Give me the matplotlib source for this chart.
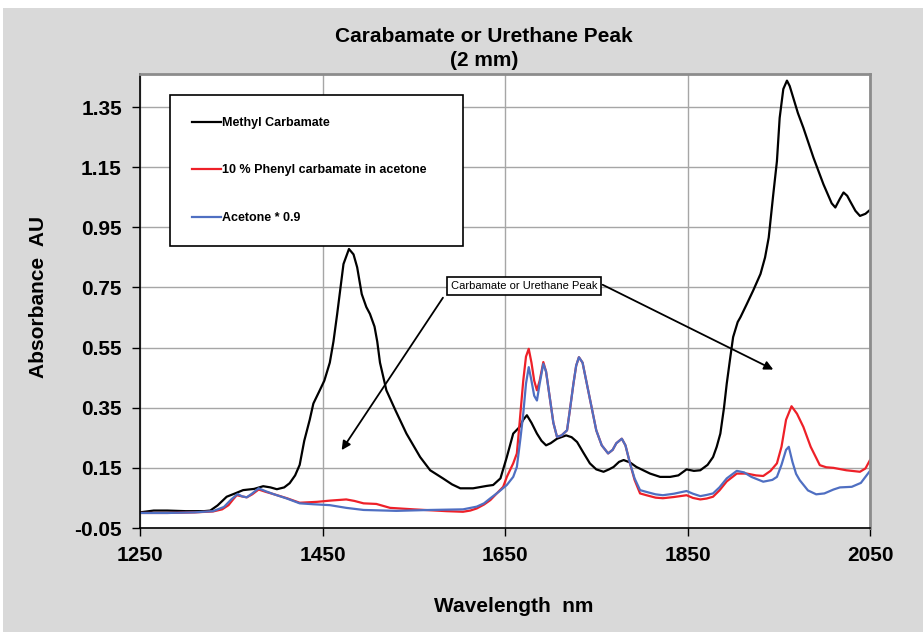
import matplotlib
matplotlib.use("Agg")
import matplotlib.pyplot as plt
from matplotlib.patches import Rectangle

plt.rcParams['font.family'] = ['Liberation Sans', 'DejaVu Sans']

# Methyl Carbamate
mc_nm = [1250, 1265, 1280, 1300, 1320, 1327, 1335, 1345, 1355, 1363, 1375, 1385, 1393, 1400,
         1408, 1414, 1420, 1425, 1430, 1436, 1440, 1447, 1452, 1458, 1462, 1466, 1473, 1479,
         1484, 1488, 1493, 1498, 1502, 1507, 1510, 1513, 1520, 1530, 1542, 1557, 1568, 1582,
         1592, 1601, 1615, 1630, 1637, 1645, 1652, 1659, 1666, 1670, 1674, 1679, 1685, 1690,
         1695, 1700, 1707, 1717, 1723, 1729, 1736, 1743, 1750, 1758, 1764, 1769, 1775, 1780,
         1787, 1794, 1809, 1820, 1831, 1840, 1849, 1857, 1864, 1872, 1878, 1882, 1886, 1890,
         1893, 1897, 1900, 1905, 1908, 1915, 1922, 1930, 1935, 1939, 1944, 1948, 1951, 1955,
         1959, 1962, 1966, 1971, 1977, 1988, 1999, 2008, 2012, 2017, 2021, 2025, 2028, 2034,
         2039, 2045, 2050]
mc_au = [0.002, 0.008, 0.008, 0.006, 0.006, 0.008, 0.025, 0.054, 0.066, 0.076, 0.080, 0.089, 0.085, 0.079,
         0.085, 0.099, 0.125, 0.160, 0.240, 0.310, 0.364, 0.408, 0.440, 0.500, 0.570, 0.660, 0.828, 0.878,
         0.860, 0.817, 0.728, 0.685, 0.662, 0.620, 0.570, 0.500, 0.408, 0.341, 0.264, 0.186, 0.142, 0.115,
         0.095, 0.082, 0.082, 0.090, 0.093, 0.115, 0.186, 0.264, 0.286, 0.310, 0.325, 0.300, 0.264, 0.240,
         0.225, 0.232, 0.247, 0.258, 0.252, 0.236, 0.200, 0.165, 0.145, 0.137, 0.145, 0.153, 0.170, 0.176,
         0.168, 0.153, 0.131, 0.120, 0.120, 0.125, 0.145, 0.140, 0.142, 0.160, 0.186, 0.220, 0.264, 0.350,
         0.430, 0.520, 0.585, 0.635, 0.651, 0.695, 0.740, 0.795, 0.850, 0.916, 1.060, 1.170, 1.314, 1.410,
         1.438, 1.420, 1.380, 1.330, 1.281, 1.182, 1.093, 1.030, 1.016, 1.045, 1.066, 1.055, 1.038, 1.005,
         0.988, 0.995, 1.008]

# 10 % Phenyl carbamate in acetone
pc_nm = [1250, 1280, 1310, 1330, 1340, 1347, 1352, 1356, 1362, 1367, 1373, 1380, 1388, 1396,
         1411, 1425, 1444, 1458, 1476, 1485, 1495, 1509, 1524, 1550, 1586, 1604, 1612, 1619,
         1627, 1634, 1641, 1648, 1652, 1659, 1663, 1666, 1670, 1673, 1676, 1679, 1682, 1685,
         1688, 1692, 1695, 1699, 1703, 1707, 1712, 1718, 1721, 1725, 1728, 1731, 1735, 1739,
         1745, 1750, 1756, 1763, 1768, 1772, 1778, 1782, 1787, 1792, 1798, 1805, 1815, 1823,
         1835, 1849, 1856, 1864, 1871, 1878, 1885, 1893, 1904, 1915, 1925, 1933, 1941, 1948,
         1953, 1958, 1964, 1970, 1977, 1985, 1995, 2002, 2010, 2024, 2039, 2045, 2050]
pc_au = [0.000, 0.000, 0.002, 0.005, 0.012, 0.026, 0.045, 0.059, 0.055, 0.052, 0.062, 0.078, 0.070, 0.063,
         0.049, 0.034, 0.037, 0.041, 0.045, 0.040, 0.032, 0.030, 0.017, 0.012, 0.006, 0.004, 0.008, 0.015,
         0.028, 0.043, 0.065, 0.087, 0.120, 0.165, 0.198, 0.300, 0.440, 0.520, 0.546, 0.500, 0.440, 0.408,
         0.440, 0.502, 0.470, 0.385, 0.300, 0.253, 0.258, 0.275, 0.340, 0.430, 0.490, 0.518, 0.500, 0.440,
         0.350, 0.275, 0.225, 0.198, 0.210, 0.232, 0.247, 0.225, 0.165, 0.110, 0.065, 0.059, 0.051, 0.049,
         0.053, 0.059, 0.050, 0.045, 0.048, 0.054, 0.075, 0.105, 0.131, 0.131, 0.125, 0.123, 0.140, 0.165,
         0.220, 0.310, 0.355, 0.330, 0.286, 0.220, 0.159, 0.152, 0.150, 0.142, 0.137, 0.148, 0.176]

# Acetone * 0.9
ac_nm = [1250, 1280, 1310, 1330, 1342, 1350, 1357, 1362, 1367, 1373, 1380, 1388, 1396, 1411,
         1425, 1440, 1458, 1476, 1495, 1531, 1568, 1604, 1619, 1627, 1634, 1643, 1652, 1659,
         1663, 1667, 1670, 1673, 1676, 1679, 1682, 1685, 1688, 1692, 1695, 1699, 1703, 1707,
         1712, 1718, 1721, 1725, 1728, 1731, 1735, 1739, 1745, 1750, 1756, 1763, 1768, 1772,
         1778, 1782, 1787, 1792, 1798, 1805, 1815, 1823, 1835, 1849, 1856, 1864, 1871, 1878,
         1885, 1893, 1904, 1912, 1920, 1933, 1943, 1948, 1953, 1958, 1961, 1965, 1969, 1973,
         1982, 1991, 2000, 2010, 2017, 2030, 2040, 2050]
ac_au = [0.000, 0.000, 0.002, 0.006, 0.020, 0.045, 0.063, 0.055, 0.052, 0.065, 0.082, 0.072, 0.063, 0.048,
         0.032, 0.029, 0.026, 0.017, 0.010, 0.007, 0.010, 0.012, 0.021, 0.032, 0.049, 0.070, 0.093, 0.120,
         0.153, 0.250, 0.330, 0.430, 0.485, 0.440, 0.390, 0.374, 0.430, 0.496, 0.470, 0.385, 0.300, 0.253,
         0.258, 0.275, 0.340, 0.430, 0.490, 0.518, 0.500, 0.440, 0.350, 0.275, 0.225, 0.198, 0.210, 0.232,
         0.247, 0.225, 0.165, 0.115, 0.076, 0.070, 0.062, 0.059, 0.064, 0.073, 0.064, 0.056, 0.060, 0.065,
         0.085, 0.115, 0.140, 0.135, 0.120, 0.104, 0.110, 0.120, 0.160, 0.210, 0.220, 0.170, 0.130, 0.109,
         0.075, 0.062, 0.065, 0.078, 0.085, 0.087, 0.100, 0.140]

x_ticks = [1250, 1450, 1650, 1850, 2050]
y_ticks = [-0.05, 0.15, 0.35, 0.55, 0.75, 0.95, 1.15, 1.35]

W, H = 923, 632
fig = plt.figure(figsize=(W / 100, H / 100), dpi=100, facecolor='white')
fig.patches.append(Rectangle((3 / W, 0), 1, 1 - 8 / H, transform=fig.transFigure,
                             facecolor='#d9d9d9', edgecolor='none', zorder=-10))

ax = fig.add_axes([140 / W, 1 - 528 / H, 730 / W, 454 / H])
ax.set_facecolor('white')

ax.plot(mc_nm, mc_au, color='black', lw=1.6, label='Methyl Carbamate')
ax.plot(pc_nm, pc_au, color='#ee2028', lw=1.6, label='10 % Phenyl carbamate in acetone')
ax.plot(ac_nm, ac_au, color='#4f6fc2', lw=1.6, label='Acetone * 0.9')

ax.set_xlim(1250, 2050)
ax.set_ylim(-0.05, 1.46)
ax.set_xticks(x_ticks)
ax.set_yticks(y_ticks)
ax.set_yticklabels(['%.2f' % v for v in y_ticks])
ax.grid(True, color='#a6a6a6', lw=1)
ax.set_axisbelow(True)
ax.tick_params(direction='out', length=6, width=1, labelsize=15, pad=7)
for lab in ax.get_xticklabels() + ax.get_yticklabels():
    lab.set_fontweight('bold')

for s in ['left', 'bottom']:
    ax.spines[s].set_color('black')
    ax.spines[s].set_linewidth(1.2)
for s in ['top', 'right']:
    ax.spines[s].set_color('#8c8c8c')
    ax.spines[s].set_linewidth(2)

fig.text(484 / W, 1 - 36 / H, 'Carabamate or Urethane Peak', ha='center', va='center',
         fontsize=15, fontweight='bold')
fig.text(484 / W, 1 - 60 / H, '(2 mm)', ha='center', va='center', fontsize=15, fontweight='bold')
fig.text(514 / W, 1 - 607 / H, 'Wavelength  nm', ha='center', va='center', fontsize=15, fontweight='bold')
fig.text(39 / W, 1 - 297 / H, 'Absorbance  AU', ha='center', va='center', rotation=90,
         fontsize=15, fontweight='bold')

leg = ax.legend(loc='upper left', bbox_to_anchor=(170 / W, 1 - 95 / H - 0.01, 293 / W, 0.01),
                bbox_transform=fig.transFigure, mode='expand', borderaxespad=0,
                prop={'size': 9, 'weight': 'bold'}, handlelength=2.3, handletextpad=0.15,
                labelspacing=2.85, borderpad=1.75, fancybox=False, framealpha=1)
leg.get_frame().set_edgecolor('black')
leg.get_frame().set_linewidth(1.2)

# annotation box and arrows
ax.text(1671, 0.756, 'Carbamate or Urethane Peak', ha='center', va='center', fontsize=8,
        bbox=dict(boxstyle='square,pad=0.35', facecolor='white', edgecolor='black', lw=1.2))
arrow = dict(arrowstyle='-|>', color='black', lw=1.3, mutation_scale=13, shrinkA=0, shrinkB=0)
ax.annotate('', xy=(1471, 0.209), xytext=(1582, 0.716), arrowprops=arrow)
ax.annotate('', xy=(1944, 0.477), xytext=(1757, 0.759), arrowprops=arrow)

fig.savefig('out.png', dpi=100, facecolor=fig.get_facecolor())
